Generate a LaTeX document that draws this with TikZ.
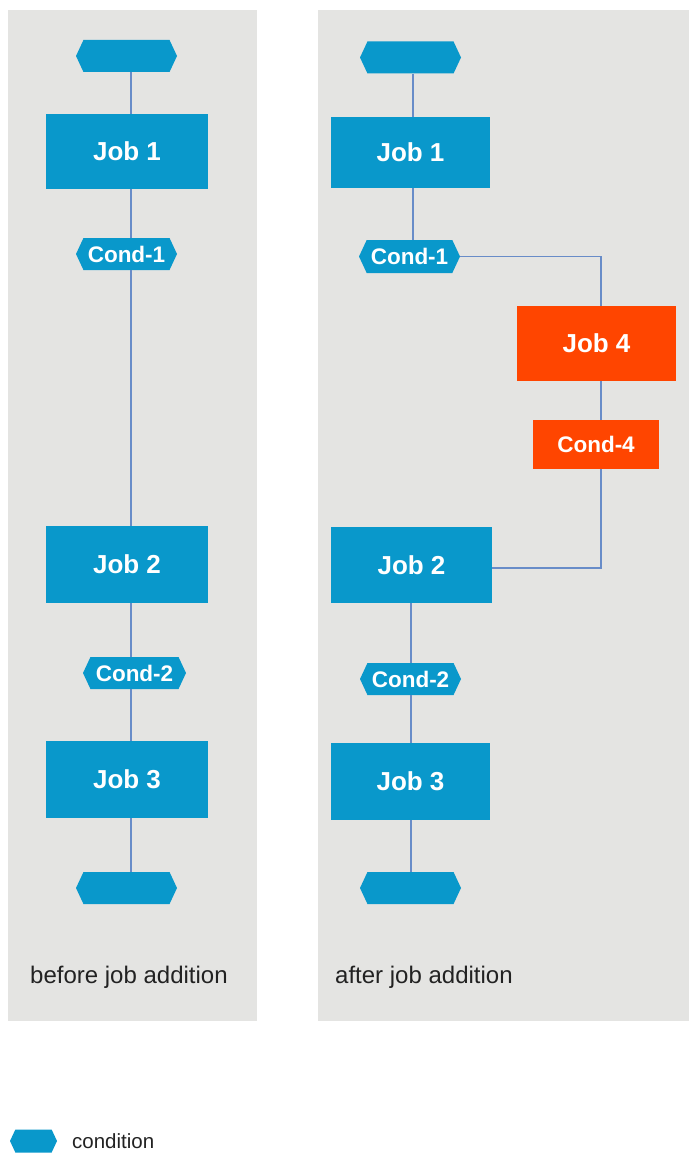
\documentclass[tikz,border=0pt]{standalone}
\usepackage{fontspec}
\setmainfont{Liberation Sans}
\usetikzlibrary{shapes.symbols}
\definecolor{jobblue}{RGB}{9,152,203}
\definecolor{joborange}{RGB}{255,69,0}
\definecolor{panelgray}{RGB}{228,228,226}
\definecolor{linkblue}{RGB}{104,140,200}
\definecolor{captiongray}{RGB}{34,34,34}
\begin{document}
\begin{tikzpicture}[x=1pt,y=-1pt,
  jobfont/.style={font=\fontsize{26}{30}\selectfont\bfseries},
  condfont/.style={font=\fontsize{22.5}{26}\selectfont\bfseries},
  jobbox/.style={fill=jobblue, text=white, minimum width=162, minimum height=74, inner sep=0, jobfont},
  newjob/.style={jobbox, fill=joborange},
  condhex/.style={signal, signal to=east and west, signal pointer angle=130, fill=jobblue, text=white,
    minimum width=101, minimum height=32, inner sep=0, condfont},
  link/.style={draw=linkblue, line width=1.4},
  panel/.style={fill=panelgray},
  caption/.style={font=\fontsize{24}{28}\selectfont, text=captiongray, anchor=west, inner sep=0}]

\useasboundingbox (0,0) rectangle (689,1153);
\fill[white] (0,0) rectangle (689,1153);
\path[panel] (8,10) rectangle (257,1021);
\path[panel] (318,10) rectangle (689,1021);

% left panel: the original chain
\node[condhex] (Lstart) at (126.5,56) {};
\node[jobbox] (Ljob1) at (127,151.5) {Job 1};
\node[condhex] (Lcond1) at (126.5,254) {Cond-1};
\node[jobbox, minimum height=77] (Ljob2) at (127,564.5) {Job 2};
\node[condhex, minimum width=103] (Lcond2) at (134.5,673) {Cond-2};
\node[jobbox, minimum height=77] (Ljob3) at (127,779.5) {Job 3};
\node[condhex] (Lend) at (126.5,888) {};
\coordinate (Lspine) at (131,0);

\draw[link] (Lstart.south -| Lspine) -- (Ljob1.north -| Lspine);
\draw[link] (Ljob1.south -| Lspine) -- (Lcond1.north -| Lspine);
\draw[link] (Lcond1.south -| Lspine) -- (Ljob2.north -| Lspine);
\draw[link] (Ljob2.south -| Lspine) -- (Lcond2.north -| Lspine);
\draw[link] (Lcond2.south -| Lspine) -- (Ljob3.north -| Lspine);
\draw[link] (Ljob3.south -| Lspine) -- (Lend.north -| Lspine);

\node[caption] (Lcap) at (30,977) {before job addition};

% right panel: Job 4 inserted between Job 1 and Job 2
\node[condhex] (Rstart) at (410.5,57.5) {};
\node[jobbox, minimum width=159, minimum height=71] (Rjob1) at (410.5,152.5) {Job 1};
\node[condhex, minimum height=33] (Rcond1) at (409.5,256.5) {Cond-1};
\node[newjob, minimum width=159, minimum height=75] (Rjob4) at (596.5,343.5) {Job 4};
\node[newjob, minimum width=126, minimum height=49, condfont] (Rcond4) at (596,444.5) {Cond-4};
\node[jobbox, minimum width=161, minimum height=76] (Rjob2) at (411.5,565) {Job 2};
\node[condhex] (Rcond2) at (410.5,679) {Cond-2};
\node[jobbox, minimum width=159, minimum height=77] (Rjob3) at (410.5,781.5) {Job 3};
\node[condhex] (Rend) at (410.5,888) {};
\coordinate (Rspine) at (413,0);
\coordinate (Rlower) at (411,0);
\coordinate (Rbranch) at (601,0);

\draw[link] (Rstart.south -| Rspine) -- (Rjob1.north -| Rspine);
\draw[link] (Rjob1.south -| Rspine) -- (Rcond1.north -| Rspine);
\draw[link] (Rcond1.east) -| (Rjob4.north -| Rbranch);
\draw[link] (Rjob4.south -| Rbranch) -- (Rcond4.north -| Rbranch);
\draw[link] (Rcond4.south -| Rbranch) |- ([yshift=-3pt]Rjob2.east);
\draw[link] (Rjob2.south -| Rlower) -- (Rcond2.north -| Rlower);
\draw[link] (Rcond2.south -| Rlower) -- (Rjob3.north -| Rlower);
\draw[link] (Rjob3.south -| Rlower) -- (Rend.north -| Rlower);

\node[caption] (Rcap) at (335,977) {after job addition};

% legend
\node[condhex, minimum width=47, minimum height=23] (legendhex) at (33.5,1141) {};
\node[caption, font=\fontsize{20.5}{24}\selectfont] (legendtext) at (72,1141) {condition};
\end{tikzpicture}
\end{document}
